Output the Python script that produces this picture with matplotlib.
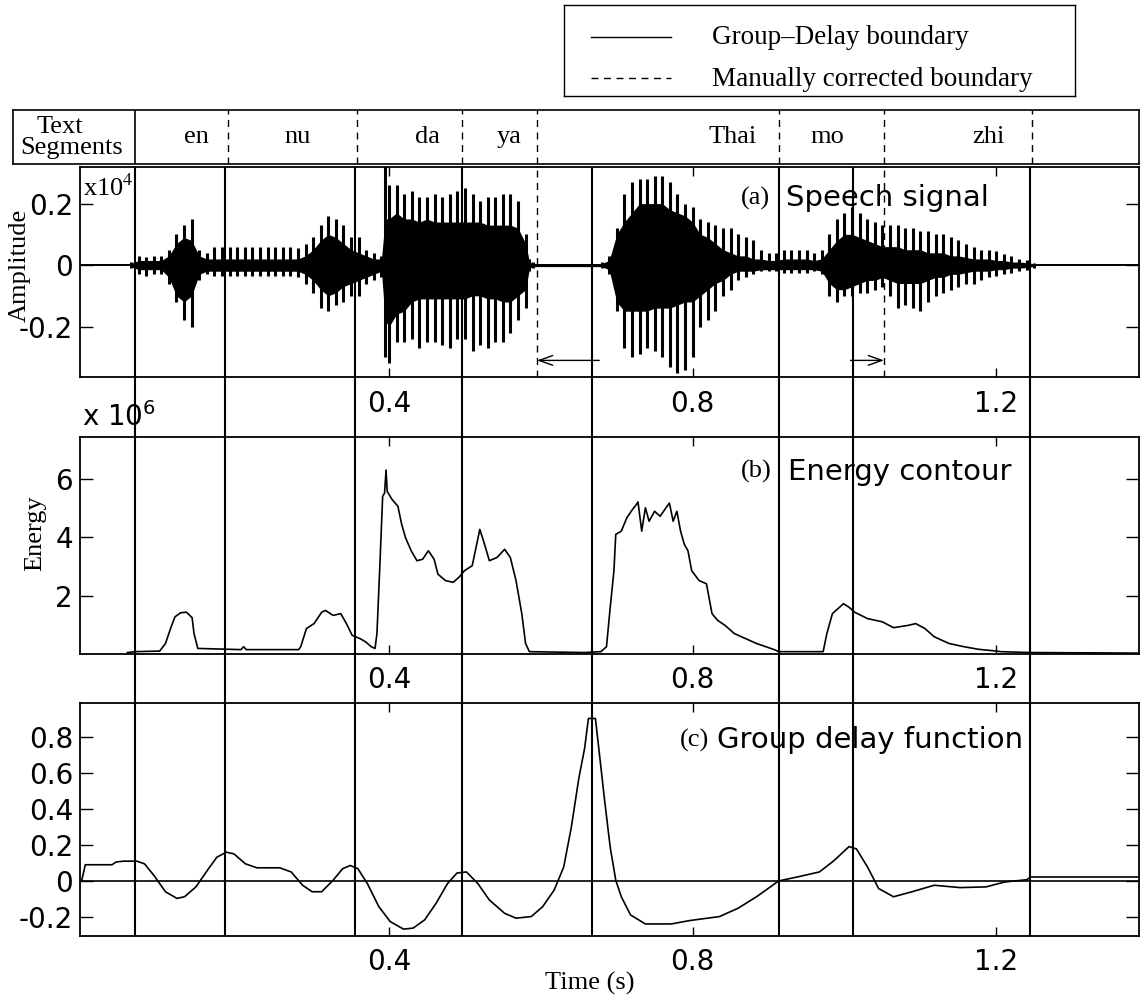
import numpy as np
import matplotlib.pyplot as plt

plt.rcParams['axes.unicode_minus'] = False

SERIF = 'Liberation Serif'
SANS = 'DejaVu Sans'

# segment boundaries in seconds
gd_bounds = [0.0653, 0.184, 0.355, 0.496, 0.667, 0.914, 1.011, 1.245]
manual_bounds = [0.188, 0.358, 0.496, 0.595, 0.914, 1.052, 1.247]
segments = ['en', 'nu', 'da', 'ya', 'Thai', 'mo', 'zhi']
segment_pos = [0.146, 0.280, 0.450, 0.558, 0.853, 0.977, 1.190]

# corrected boundaries shown with arrows in (a)
arrow_from = [0.677, 1.008]
arrow_to = [0.595, 1.052]
arrow_y = -0.31

# speech signal envelope (x1e4): pulse peaks and dense core
sp_t = [0.06, 0.07, 0.08, 0.09, 0.10, 0.11, 0.12, 0.13, 0.14, 0.15, 0.16,
        0.17, 0.18, 0.19, 0.20, 0.21, 0.22, 0.23, 0.24, 0.25, 0.26, 0.27,
        0.28, 0.29, 0.30, 0.31, 0.32, 0.33, 0.34, 0.35, 0.36, 0.37, 0.38,
        0.39, 0.395, 0.40, 0.41, 0.42, 0.43, 0.44, 0.45, 0.46, 0.47, 0.48,
        0.49, 0.50, 0.51, 0.52, 0.53, 0.54, 0.55, 0.56, 0.57, 0.58, 0.585,
        0.59,
        0.68, 0.69, 0.70, 0.71, 0.72, 0.73, 0.74, 0.75, 0.76, 0.77, 0.78,
        0.79, 0.80, 0.81, 0.82, 0.83, 0.84, 0.85, 0.86, 0.87, 0.88, 0.89,
        0.90, 0.91, 0.92, 0.93, 0.94, 0.95, 0.96, 0.97, 0.98, 0.99, 1.00,
        1.01, 1.02, 1.03, 1.04, 1.05, 1.06, 1.07, 1.08, 1.09, 1.10, 1.11,
        1.12, 1.13, 1.14, 1.15, 1.16, 1.17, 1.18, 1.19, 1.20, 1.21, 1.22,
        1.23, 1.24, 1.25]
sp_hi = [0.01, 0.028, 0.025, 0.03, 0.03, 0.05, 0.10, 0.13, 0.15, 0.05, 0.04,
         0.06, 0.06, 0.06, 0.06, 0.06, 0.06, 0.06, 0.06, 0.06, 0.06, 0.06,
         0.055, 0.07, 0.09, 0.13, 0.16, 0.15, 0.13, 0.09, 0.09, 0.05, 0.04,
         0.03, 0.34, 0.26, 0.26, 0.23, 0.24, 0.22, 0.22, 0.23, 0.22, 0.23,
         0.24, 0.25, 0.23, 0.21, 0.22, 0.22, 0.23, 0.23, 0.21, 0.10, 0.02,
         0.01,
         0.01, 0.03, 0.12, 0.23, 0.27, 0.28, 0.28, 0.29, 0.29, 0.27, 0.23,
         0.20, 0.19, 0.15, 0.14, 0.13, 0.12, 0.12, 0.10, 0.09, 0.08, 0.05,
         0.04, 0.04, 0.05, 0.05, 0.05, 0.05, 0.04, 0.05, 0.10, 0.15, 0.17,
         0.19, 0.17, 0.15, 0.14, 0.13, 0.13, 0.13, 0.12, 0.12, 0.11, 0.11,
         0.10, 0.10, 0.09, 0.08, 0.07, 0.06, 0.05, 0.05, 0.045, 0.035, 0.03,
         0.02, 0.015, 0.008]
sp_lo = [-0.01, -0.03, -0.035, -0.03, -0.03, -0.06, -0.12, -0.18, -0.20, -0.05, -0.03,
         -0.035, -0.035, -0.035, -0.035, -0.035, -0.035, -0.035, -0.035, -0.035, -0.035, -0.035,
         -0.04, -0.06, -0.09, -0.14, -0.15, -0.13, -0.12, -0.10, -0.10, -0.06, -0.05,
         -0.04, -0.30, -0.32, -0.25, -0.25, -0.24, -0.27, -0.25, -0.25, -0.26, -0.27,
         -0.24, -0.24, -0.28, -0.26, -0.27, -0.25, -0.25, -0.22, -0.18, -0.14, -0.02,
         -0.01,
         -0.01, -0.03, -0.15, -0.27, -0.30, -0.29, -0.27, -0.28, -0.30, -0.33, -0.35,
         -0.34, -0.30, -0.20, -0.18, -0.15, -0.10, -0.08, -0.05, -0.04, -0.03, -0.02,
         -0.02, -0.02, -0.025, -0.025, -0.025, -0.025, -0.02, -0.03, -0.10, -0.12, -0.10,
         -0.10, -0.09, -0.09, -0.08, -0.07, -0.10, -0.14, -0.13, -0.14, -0.15, -0.12,
         -0.10, -0.09, -0.08, -0.07, -0.06, -0.06, -0.05, -0.04, -0.035, -0.03, -0.025,
         -0.02, -0.015, -0.008]
core_hi = [0.005, 0.015, 0.015, 0.015, 0.015, 0.03, 0.07, 0.09, 0.08, 0.03, 0.02,
           0.02, 0.02, 0.02, 0.02, 0.02, 0.02, 0.02, 0.02, 0.02, 0.02, 0.02,
           0.02, 0.03, 0.05, 0.08, 0.10, 0.09, 0.07, 0.05, 0.04, 0.03, 0.02,
           0.02, 0.15, 0.15, 0.17, 0.15, 0.15, 0.14, 0.15, 0.14, 0.14, 0.14,
           0.14, 0.14, 0.14, 0.14, 0.13, 0.13, 0.13, 0.13, 0.12, 0.07, 0.01,
           0.005,
           0.005, 0.015, 0.10, 0.14, 0.17, 0.20, 0.20, 0.20, 0.20, 0.18, 0.17,
           0.16, 0.14, 0.10, 0.09, 0.07, 0.05, 0.04, 0.03, 0.03, 0.02, 0.02,
           0.015, 0.015, 0.02, 0.02, 0.02, 0.02, 0.015, 0.02, 0.05, 0.08, 0.10,
           0.10, 0.09, 0.08, 0.07, 0.06, 0.06, 0.06, 0.05, 0.05, 0.05, 0.04,
           0.04, 0.04, 0.03, 0.03, 0.025, 0.02, 0.02, 0.02, 0.015, 0.015, 0.01,
           0.01, 0.008, 0.004]
core_lo = [-0.005, -0.015, -0.015, -0.015, -0.015, -0.04, -0.10, -0.12, -0.10, -0.03, -0.02,
           -0.02, -0.02, -0.02, -0.02, -0.02, -0.02, -0.02, -0.02, -0.02, -0.02, -0.02,
           -0.02, -0.03, -0.05, -0.08, -0.10, -0.09, -0.07, -0.06, -0.05, -0.04, -0.03,
           -0.02, -0.18, -0.20, -0.16, -0.15, -0.12, -0.11, -0.11, -0.11, -0.11, -0.11,
           -0.11, -0.11, -0.10, -0.10, -0.11, -0.11, -0.12, -0.12, -0.10, -0.08, -0.01,
           -0.005,
           -0.005, -0.015, -0.12, -0.15, -0.15, -0.15, -0.15, -0.14, -0.14, -0.14, -0.13,
           -0.12, -0.12, -0.10, -0.08, -0.06, -0.05, -0.03, -0.02, -0.02, -0.02, -0.015,
           -0.015, -0.015, -0.015, -0.015, -0.015, -0.015, -0.015, -0.02, -0.06, -0.08, -0.08,
           -0.07, -0.06, -0.05, -0.05, -0.04, -0.05, -0.06, -0.06, -0.06, -0.06, -0.05,
           -0.04, -0.04, -0.03, -0.03, -0.025, -0.02, -0.02, -0.02, -0.015, -0.015, -0.01,
           -0.01, -0.008, -0.004]

# short-time energy (x1e6)
en_t = [0.0553, 0.0653, 0.0979, 0.1055, 0.1130, 0.1180, 0.1255, 0.1331, 0.1406,
        0.1431, 0.1481, 0.2050, 0.2084, 0.2120, 0.2810, 0.2837, 0.2912, 0.3012,
        0.3113, 0.3163, 0.3263, 0.3364, 0.3439, 0.3514, 0.3615, 0.3690, 0.3765,
        0.3816, 0.3841, 0.3881, 0.3916, 0.3941, 0.3961, 0.3976, 0.4041, 0.4117,
        0.4167, 0.4217, 0.4292, 0.4368, 0.4443, 0.4518, 0.4594, 0.4644, 0.4744,
        0.4845, 0.4920, 0.4995, 0.5096, 0.5196, 0.5246, 0.5322, 0.5422, 0.5523,
        0.5598, 0.5673, 0.5749, 0.5799, 0.5849, 0.6577, 0.6792, 0.6865, 0.6914,
        0.6963, 0.6987, 0.7060, 0.7133, 0.7207, 0.7255, 0.7280, 0.7329, 0.7377,
        0.7426, 0.7499, 0.7572, 0.7646, 0.7694, 0.7743, 0.7792, 0.7841, 0.7890,
        0.7938, 0.7987, 0.8085, 0.8182, 0.8255, 0.8329, 0.8426, 0.8548, 0.8694,
        0.8841, 0.8963, 0.9085, 0.9133, 0.9719, 0.9768, 0.9841, 0.9914, 0.9987,
        1.0060, 1.0133, 1.0304, 1.0499, 1.0646, 1.0841, 1.0938, 1.1060, 1.1182,
        1.1377, 1.1573, 1.1768, 1.1963, 1.2060, 1.2450, 1.3880]
en_v = [0.05, 0.08, 0.10, 0.36, 0.93, 1.27, 1.41, 1.43, 1.24,
        0.70, 0.19, 0.15, 0.25, 0.15, 0.15, 0.25, 0.87, 1.04,
        1.43, 1.49, 1.32, 1.38, 1.04, 0.64, 0.53, 0.42, 0.25,
        0.19, 0.70, 3.13, 5.39, 5.50, 6.29, 5.56, 5.28, 5.05,
        4.43, 3.98, 3.53, 3.19, 3.24, 3.53, 3.24, 2.73, 2.51,
        2.45, 2.62, 2.85, 3.02, 4.26, 3.86, 3.19, 3.30, 3.58,
        3.30, 2.51, 1.38, 0.36, 0.08, 0.05, 0.08, 0.25, 1.60,
        2.85, 4.09, 4.20, 4.66, 4.94, 5.10, 5.20, 4.20, 5.00,
        4.54, 4.88, 4.71, 4.99, 5.16, 4.54, 4.88, 4.20, 3.75,
        3.53, 2.85, 2.51, 2.40, 1.38, 1.15, 0.98, 0.70, 0.53,
        0.36, 0.25, 0.14, 0.08, 0.08, 0.70, 1.38, 1.55, 1.72,
        1.60, 1.43, 1.21, 1.10, 0.90, 0.98, 1.04, 0.87, 0.59,
        0.36, 0.25, 0.16, 0.11, 0.08, 0.05, 0.03]

# group delay function
gd_t = [-0.0050, -0.0001, 0.0352, 0.0402, 0.0502, 0.0678, 0.0779, 0.0904, 0.1055,
        0.1205, 0.1306, 0.1456, 0.1607, 0.1732, 0.1858, 0.1958, 0.2109, 0.2259,
        0.2561, 0.2711, 0.2862, 0.2987, 0.3113, 0.3263, 0.3389, 0.3489, 0.3590,
        0.3715, 0.3866, 0.4016, 0.4192, 0.4318, 0.4468, 0.4619, 0.4770, 0.4895,
        0.5020, 0.5171, 0.5322, 0.5523, 0.5673, 0.5874, 0.6024, 0.6175, 0.6301,
        0.6401, 0.6501, 0.6577, 0.6627, 0.6719, 0.6768, 0.6841, 0.6914, 0.6987,
        0.7060, 0.7182, 0.7377, 0.7719, 0.7963, 0.8353, 0.8597, 0.8841, 0.9133,
        0.9377, 0.9670, 0.9865, 1.0060, 1.0158, 1.0304, 1.0450, 1.0646, 1.0890,
        1.1182, 1.1524, 1.1865, 1.2109, 1.2402, 1.2450, 1.3880]
gd_v = [0.0, 0.09, 0.09, 0.105, 0.11, 0.11, 0.095, 0.03, -0.06,
        -0.097, -0.088, -0.033, 0.059, 0.132, 0.16, 0.15, 0.095, 0.073,
        0.073, 0.05, -0.024, -0.06, -0.06, 0.004, 0.068, 0.086, 0.068,
        -0.015, -0.143, -0.226, -0.268, -0.262, -0.217, -0.125, -0.015, 0.044,
        0.05, -0.015, -0.106, -0.18, -0.207, -0.198, -0.143, -0.051, 0.077,
        0.297, 0.572, 0.738, 0.903, 0.903, 0.72, 0.444, 0.187, 0.004,
        -0.088, -0.189, -0.239, -0.239, -0.22, -0.198, -0.152, -0.088, 0.0,
        0.022, 0.05, 0.114, 0.191, 0.178, 0.077, -0.042, -0.088, -0.06,
        -0.024, -0.037, -0.033, -0.006, 0.007, 0.022, 0.022]

W, H = 1141, 999
XLIM = (-0.0071, 1.388)
DASH = (0, (5, 4))

fig = plt.figure(figsize=(W / 100, H / 100), dpi=100)


def px_axes(x0, y0, x1, y1):
    return fig.add_axes([x0 / W, 1 - y1 / H, (x1 - x0) / W, (y1 - y0) / H])


def style_panel(ax, ylim, yticks, ylabels):
    ax.set_xlim(XLIM)
    ax.set_ylim(ylim)
    ax.set_xticks([0.4, 0.8, 1.2])
    ax.set_xticklabels(['0.4', '0.8', '1.2'], fontfamily=SANS, fontsize=20)
    ax.set_yticks(yticks)
    ax.set_yticklabels(ylabels, fontfamily=SANS, fontsize=20)
    ax.tick_params(axis='x', direction='in', length=6.5, width=1, top=True, pad=9)
    ax.tick_params(axis='y', direction='in', length=9.5, width=1, right=True, pad=5)
    for s in ax.spines.values():
        s.set_linewidth(1.3)


# legend box
axl = px_axes(564, 5, 1075, 96)
axl.set_xlim(564, 1075)
axl.set_ylim(96, 5)
axl.set_xticks([])
axl.set_yticks([])
for s in axl.spines.values():
    s.set_linewidth(1)
axl.plot([591, 671], [37, 37], color='k', lw=1)
axl.plot([591, 671], [78, 78], color='k', lw=1, ls=DASH)
axl.text(712, 38, 'Group\u2013Delay boundary', fontfamily=SERIF, fontsize=19.5, va='center')
axl.text(712, 80, 'Manually corrected boundary', fontfamily=SERIF, fontsize=19.5, va='center')

# text segments row
axs = px_axes(13, 110, 1139, 164)
axs.set_xlim(-0.0954, 1.388)
axs.set_ylim(0, 1)
axs.set_xticks([])
axs.set_yticks([])
for s in axs.spines.values():
    s.set_linewidth(1.2)
axs.axvline(gd_bounds[0], color='k', lw=1.2)
for b in manual_bounds:
    axs.axvline(b, color='k', lw=1, ls=DASH)
for name, pos in zip(segments, segment_pos):
    axs.text(pos, 0.5, name, fontfamily=SERIF, fontsize=19, ha='center', va='center')
fig.text(60 / W, 1 - 127 / H, 'Text', fontfamily=SERIF, fontsize=19, ha='center', va='center')
fig.text(72 / W, 1 - 148 / H, 'Segments', fontfamily=SERIF, fontsize=19, ha='center', va='center')

# (a) speech signal
axa = px_axes(80, 167, 1139, 377)
axa.fill_between(sp_t, core_lo, core_hi, color='k', lw=0)
axa.vlines(sp_t, sp_lo, sp_hi, color='k', lw=2.2)
axa.axhline(0, color='k', lw=1.4)
for b in (manual_bounds[3], manual_bounds[5]):
    axa.axvline(b, color='k', lw=1, ls=DASH)
for x0, x1 in zip(arrow_from, arrow_to):
    axa.annotate('', xy=(x1, arrow_y), xytext=(x0, arrow_y),
                 arrowprops=dict(arrowstyle='->,head_length=0.7,head_width=0.25',
                                 lw=1, color='k', shrinkA=0, shrinkB=0,
                                 mutation_scale=14))
style_panel(axa, (-0.364, 0.319), [-0.2, 0, 0.2], ['-0.2', '0', '0.2'])
axa.text(0.003, 0.90, r'x10$^4$', transform=axa.transAxes, fontfamily=SERIF,
         math_fontfamily='stix', fontsize=19, va='center')
axa.text(0.6242, 0.852, '(a)', transform=axa.transAxes, fontfamily=SERIF, fontsize=19, va='center')
axa.text(0.6667, 0.852, 'Speech signal', transform=axa.transAxes, fontfamily=SANS, fontsize=21, va='center')

# (b) energy contour
axb = px_axes(80, 437, 1139, 654)
axb.plot(en_t, en_v, color='k', lw=1.2)
style_panel(axb, (0, 7.42), [2, 4, 6], ['2', '4', '6'])
axb.text(0.002, 1.025, r'x 10$^6$', transform=axb.transAxes, fontfamily=SANS,
         fontsize=20, va='bottom')
axb.text(0.6242, 0.839, '(b)', transform=axb.transAxes, fontfamily=SERIF, fontsize=19, va='center')
axb.text(0.6686, 0.839, 'Energy contour', transform=axb.transAxes, fontfamily=SANS, fontsize=21, va='center')

# (c) group delay function
axc = px_axes(80, 703, 1139, 936)
axc.plot(gd_t, gd_v, color='k', lw=1.2)
axc.axhline(0, color='k', lw=1.2)
style_panel(axc, (-0.306, 0.989), [-0.2, 0, 0.2, 0.4, 0.6, 0.8],
            ['-0.2', '0', '0.2', '0.4', '0.6', '0.8'])
axc.text(0.5666, 0.841, '(c)', transform=axc.transAxes, fontfamily=SERIF, fontsize=19, va='center')
axc.text(0.6015, 0.841, 'Group delay function', transform=axc.transAxes, fontfamily=SANS, fontsize=21, va='center')

# group-delay boundaries across all three panels
axo = px_axes(80, 167, 1139, 936)
axo.set_xlim(XLIM)
axo.set_ylim(0, 1)
axo.axis('off')
axo.set_zorder(5)
for b in gd_bounds:
    axo.axvline(b, color='k', lw=1.5)

fig.text(20 / W, 1 - 265 / H, 'Amplitude', fontfamily=SERIF, fontsize=19,
         rotation=90, ha='center', va='center')
fig.text(35 / W, 1 - 533 / H, 'Energy', fontfamily=SERIF, fontsize=19,
         rotation=90, ha='center', va='center')
fig.text(590 / W, 1 - 983 / H, 'Time (s)', fontfamily=SERIF, fontsize=19,
         ha='center', va='center')

fig.savefig('out.png', dpi=100)
